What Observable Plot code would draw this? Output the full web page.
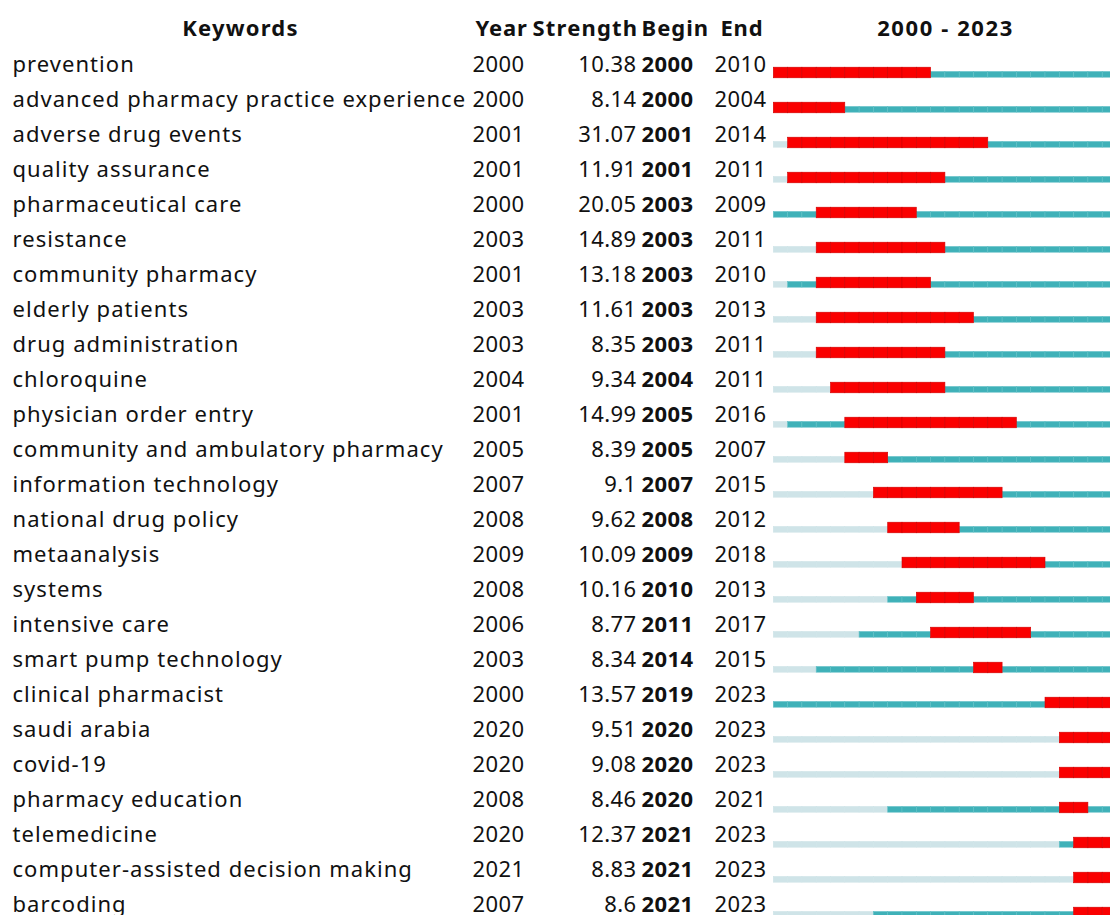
<!DOCTYPE html>
<html>
<head>
<meta charset="utf-8">
<script src="https://cdn.jsdelivr.net/npm/d3@7"></script>
<script src="https://cdn.jsdelivr.net/npm/@observablehq/plot@0.6"></script>
<style>
  html, body { margin: 0; padding: 0; background: white; overflow: hidden; }
</style>
</head>
<body>
<div id="chart"></div>
<script>
const keywords = [
  "prevention", "advanced pharmacy practice experience", "adverse drug events", "quality assurance",
  "pharmaceutical care", "resistance", "community pharmacy", "elderly patients", "drug administration",
  "chloroquine", "physician order entry", "community and ambulatory pharmacy", "information technology",
  "national drug policy", "metaanalysis", "systems", "intensive care", "smart pump technology",
  "clinical pharmacist", "saudi arabia", "covid-19", "pharmacy education", "telemedicine",
  "computer-assisted decision making", "barcoding"
];
const years = [2000, 2000, 2001, 2001, 2000, 2003, 2001, 2003, 2003, 2004, 2001, 2005, 2007, 2008, 2009, 2008, 2006, 2003, 2000, 2020, 2020, 2008, 2020, 2021, 2007];
const strengths = ["10.38", "8.14", "31.07", "11.91", "20.05", "14.89", "13.18", "11.61", "8.35", "9.34", "14.99", "8.39", "9.1", "9.62", "10.09", "10.16", "8.77", "8.34", "13.57", "9.51", "9.08", "8.46", "12.37", "8.83", "8.6"];
const begins = [2000, 2000, 2001, 2001, 2003, 2003, 2003, 2003, 2003, 2004, 2005, 2005, 2007, 2008, 2009, 2010, 2011, 2014, 2019, 2020, 2020, 2020, 2021, 2021, 2021];
const ends = [2010, 2004, 2014, 2011, 2009, 2011, 2010, 2013, 2011, 2011, 2016, 2007, 2015, 2012, 2018, 2013, 2017, 2015, 2023, 2023, 2023, 2021, 2023, 2023, 2023];
const firstYear = 2000, lastYear = 2023;

const rows = keywords.map((k, i) => ({keyword: k, year: years[i], strength: strengths[i], begin: begins[i], end: ends[i]}));
const cells = [];
rows.forEach(r => {
  for (let y = firstYear; y <= lastYear; y++) {
    const state = y < r.year ? "light" : (y >= r.begin && y <= r.end ? "red" : "teal");
    cells.push({keyword: r.keyword, year: y, state});
  }
});

const font = {fontSize: 22, fontFamily: "Noto Sans", fill: "#111"};
const header = (t, dx, anchor) => Plot.text([t], {
  text: d => d, frameAnchor: "top-left", lineAnchor: "middle", dx, dy: 28,
  textAnchor: anchor, fontWeight: 700, ...font
});

const chart = Plot.plot({
  width: 1110,
  height: 915,
  marginTop: 0, marginBottom: 0, marginLeft: 0, marginRight: 0,
  style: {background: "white", overflow: "hidden", fontFamily: "Noto Sans"},
  x: {domain: [firstYear, lastYear + 1], range: [773.3, 1116.5], axis: null},
  y: {type: "band", domain: keywords, range: [46.5, 921.5], padding: 0, axis: null},
  marks: [
    Plot.rect(cells.filter(c => c.state !== "red"), {
      x1: "year", x2: d => d.year + 1, y: "keyword",
      insetTop: 24.5, insetBottom: 4.8,
      fill: d => d.state === "light" ? "#cfe4e8" : "#3fb1b8",
      stroke: d => d.state === "light" ? "#cfe4e8" : "#62c0c6", strokeWidth: 0.6
    }),
    Plot.rect(cells.filter(c => c.state === "red"), {
      x1: "year", x2: d => d.year + 1, y: "keyword",
      insetTop: 20.2, insetBottom: 4.2,
      fill: "#fa0000", stroke: "#d00000", strokeWidth: 0.6
    }),
    Plot.text(rows, {y: "keyword", text: "keyword", frameAnchor: "left", dx: 12, textAnchor: "start", ...font}),
    Plot.text(rows, {y: "keyword", text: d => String(d.year), frameAnchor: "left", dx: 472, textAnchor: "start", ...font}),
    Plot.text(rows, {y: "keyword", text: "strength", frameAnchor: "left", dx: 636, textAnchor: "end", ...font}),
    Plot.text(rows, {y: "keyword", text: d => String(d.begin), frameAnchor: "left", dx: 641, textAnchor: "start", fontWeight: 700, ...font}),
    Plot.text(rows, {y: "keyword", text: d => String(d.end), frameAnchor: "left", dx: 714, textAnchor: "start", ...font}),
    header("Keywords", 240, "middle"),
    header("Year", 475, "start"),
    header("Strength", 532, "start"),
    header("Begin", 641, "start"),
    header("End", 720, "start"),
    header(`${firstYear} - ${lastYear}`, 945, "middle")
  ]
});
const groups = chart.querySelectorAll('g[aria-label="text"]');
const spacing = [1.05, 0.4, 0.4, 0.4, 0.4, 1.2, 0.8, 1.2, 1.0, 0.8, 1.6];
groups.forEach((g, i) => g.style.letterSpacing = (spacing[i] ?? 0) + "px");
document.getElementById("chart").appendChild(chart);
</script>
</body>
</html>
